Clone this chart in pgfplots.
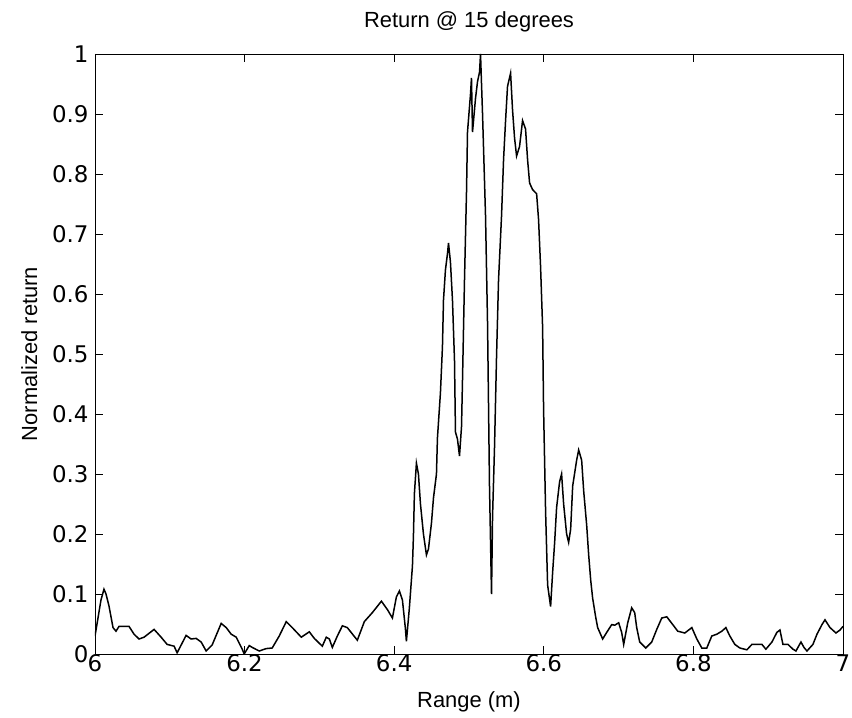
\documentclass[border=0pt]{standalone}
\usepackage{pgfplots}
\pgfplotsset{compat=1.18}
\usepackage{fontspec}
\setmainfont{Liberation Sans}
\newfontfamily\tickfont{DejaVu Sans}
\begin{document}
\begin{tikzpicture}
\useasboundingbox (-95bp,-64bp) rectangle (757bp,654bp);
\begin{axis}[
  at={(0,0)}, anchor=south west,
  scale only axis, width=748bp, height=600bp,
  xmin=6, xmax=7, ymin=0, ymax=1,
  xtick={6,6.2,...,7.01}, ytick={0,0.1,...,1.01},
  /pgf/number format/assume math mode=true,
  xticklabel style={/pgf/number format/fixed,/pgf/number format/precision=1, yshift=3bp},
  yticklabel style={/pgf/number format/fixed,/pgf/number format/precision=1, xshift=-3bp},
  tick align=inside, major tick length=8bp,
  tick style={black, line width=0.8bp},
  axis line style={line width=0.8bp},
  every tick label/.append style={font=\tickfont\fontsize{23}{26}\selectfont},
  label style={font=\fontsize{22}{26}\selectfont},
  title style={font=\fontsize{22}{26}\selectfont, at={(axis description cs:0.5,1)}, anchor=base, yshift=21bp},
  title={Return @ 15 degrees},
  xlabel={Range (m)}, ylabel={Normalized return},
  xlabel style={at={(axis description cs:0.5,0)}, anchor=base, yshift=-53bp},
  ylabel style={at={(axis description cs:-0.0775,0.5)}, anchor=base},
]
\addplot[black, line width=1.5bp] coordinates {
(6.000,0.03) (6.004,0.06) (6.008,0.09) (6.012,0.108) (6.0147,0.10) (6.0187,0.08)
(6.0241,0.044) (6.0281,0.038) (6.0321,0.046) (6.0455,0.046) (6.0522,0.033)
(6.0589,0.025) (6.0656,0.028) (6.0790,0.041) (6.0884,0.028) (6.0964,0.016)
(6.1058,0.013) (6.1098,0.002) (6.1218,0.031) (6.1285,0.025) (6.1352,0.026)
(6.1419,0.02) (6.1486,0.005) (6.1566,0.015) (6.1687,0.051) (6.1754,0.044)
(6.1821,0.033) (6.1888,0.028) (6.1968,0.008) (6.1995,0.0) (6.2062,0.014)
(6.2102,0.011) (6.2195,0.005) (6.2289,0.009) (6.2369,0.01) (6.2463,0.03)
(6.2557,0.054) (6.2637,0.044) (6.2758,0.028) (6.2865,0.037) (6.2932,0.026)
(6.3039,0.013) (6.3092,0.028) (6.3133,0.025) (6.3173,0.011) (6.3240,0.03)
(6.3307,0.047) (6.3373,0.044) (6.3507,0.023) (6.3601,0.054) (6.3708,0.069)
(6.3829,0.088) (6.3909,0.074) (6.3976,0.06) (6.4029,0.095) (6.4070,0.105)
(6.4110,0.09) (6.4150,0.042) (6.4163,0.021) (6.4203,0.077) (6.4244,0.147)
(6.4257,0.196) (6.4270,0.267) (6.4297,0.318) (6.4324,0.30) (6.4351,0.25)
(6.4391,0.2) (6.4431,0.165) (6.4458,0.175) (6.4498,0.218) (6.4525,0.26)
(6.4565,0.30) (6.4578,0.36) (6.4618,0.435) (6.4645,0.512) (6.4659,0.59)
(6.4685,0.64) (6.4712,0.667) (6.4726,0.685) (6.4752,0.653) (6.4779,0.59)
(6.4806,0.49) (6.4819,0.37) (6.4846,0.358) (6.4873,0.33) (6.4900,0.379)
(6.4913,0.456) (6.4940,0.625) (6.4967,0.772) (6.4980,0.87) (6.5020,0.933)
(6.5033,0.96) (6.5047,0.87) (6.5087,0.926) (6.5114,0.954) (6.5141,0.97)
(6.5154,1.0) (6.5181,0.90) (6.5221,0.73) (6.5248,0.55) (6.5274,0.28)
(6.5301,0.10) (6.5315,0.23) (6.5341,0.344) (6.5368,0.495) (6.5395,0.624)
(6.5435,0.73) (6.5462,0.824) (6.5489,0.889) (6.5515,0.946) (6.5556,0.968)
(6.5582,0.907) (6.5609,0.86) (6.5636,0.83) (6.5676,0.846) (6.5716,0.889)
(6.5756,0.875) (6.5783,0.824) (6.5810,0.785) (6.5850,0.774) (6.5904,0.767)
(6.5930,0.724) (6.5957,0.645) (6.5984,0.545) (6.5997,0.409) (6.6024,0.237)
(6.6051,0.115) (6.6091,0.079) (6.6118,0.136) (6.6145,0.186) (6.6171,0.244)
(6.6211,0.287) (6.6238,0.30) (6.6265,0.25) (6.6305,0.2) (6.6332,0.186)
(6.6359,0.208) (6.6386,0.28) (6.6439,0.323) (6.6466,0.34) (6.6506,0.323)
(6.6533,0.272) (6.6573,0.215) (6.6600,0.165) (6.6627,0.123) (6.6653,0.093)
(6.6693,0.062) (6.6720,0.044) (6.6787,0.025) (6.6841,0.036) (6.6908,0.049)
(6.6948,0.048) (6.7001,0.052) (6.7041,0.036) (6.7068,0.016) (6.7122,0.052)
(6.7175,0.077) (6.7215,0.069) (6.7242,0.044) (6.7282,0.02) (6.7363,0.01)
(6.7443,0.02) (6.7510,0.041) (6.7577,0.06) (6.7644,0.062) (6.7724,0.049)
(6.7791,0.038) (6.7885,0.035) (6.7979,0.044) (6.8046,0.025) (6.8112,0.01)
(6.8179,0.01) (6.8246,0.03) (6.8313,0.033) (6.8380,0.038) (6.8434,0.044)
(6.8487,0.03) (6.8554,0.016) (6.8621,0.01) (6.8715,0.007) (6.8782,0.016)
(6.8849,0.016) (6.8916,0.016) (6.8969,0.008) (6.9050,0.02) (6.9116,0.036)
(6.9157,0.04) (6.9197,0.016) (6.9264,0.016) (6.9331,0.008) (6.9371,0.005)
(6.9438,0.02) (6.9478,0.011) (6.9518,0.005) (6.9598,0.016) (6.9652,0.033)
(6.9719,0.049) (6.9759,0.057) (6.9826,0.044) (6.9906,0.035) (6.9960,0.04)
(7.0000,0.046)
};
\end{axis}
\end{tikzpicture}
\end{document}
